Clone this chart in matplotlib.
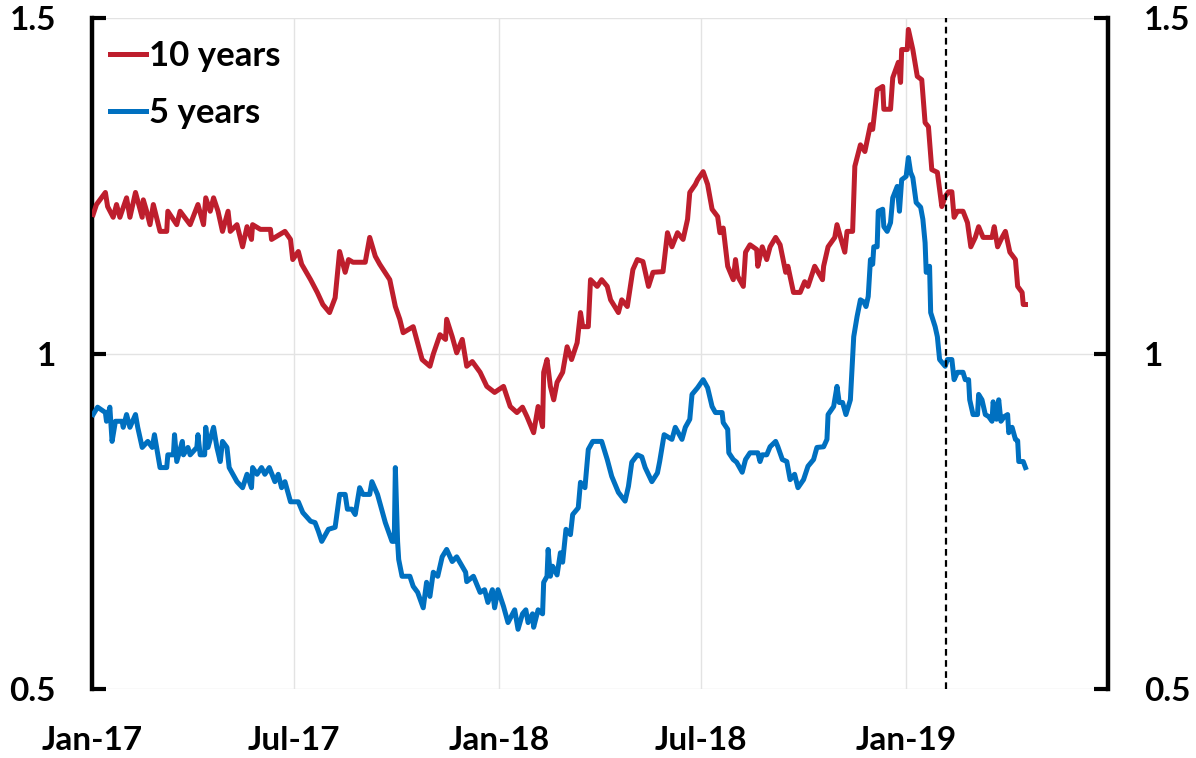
import matplotlib
matplotlib.use("Agg")
import matplotlib.pyplot as plt
import pandas as pd

# ---------------- data (days since 2017-01-01, yield %) ----------------
start_date = "2017-01-01"

ten_days = [1, 4, 12, 14, 19, 22, 25, 29, 31, 34, 39, 45, 46, 49, 52, 55, 61, 67, 68, 76,
            79, 88, 95, 100, 102, 106, 109, 113, 117, 122, 124, 130, 135, 139, 143, 144, 151, 160, 161, 173,
            178, 180, 185, 188, 196, 202, 207, 213, 218, 222, 227, 230, 234, 245, 249, 254, 258, 267, 272, 276,
            279, 288, 296, 303, 306, 312, 317, 318, 323, 327, 332, 336, 341, 348, 354, 361, 369, 375, 381, 386,
            390, 396, 400, 404, 405, 408, 411, 414, 417, 422, 426, 430, 435, 438, 440, 445, 447, 453, 457, 462,
            465, 472, 475, 480, 485, 489, 494, 499, 503, 512, 516, 520, 525, 530, 534, 536, 541, 543, 548, 552,
            556, 561, 563, 566, 570, 575, 577, 579, 584, 586, 590, 596, 597, 601, 605, 608, 613, 617, 622, 624,
            629, 635, 639, 642, 648, 655, 656, 660, 666, 668, 671, 675, 677, 682, 684, 689, 693, 698, 700, 704,
            709, 710, 716, 718, 723, 725, 726, 731, 732, 736, 740, 744, 747, 750, 753, 758, 762, 765, 768, 771,
            773, 776, 781, 785, 788, 792, 795, 799, 807, 809, 812, 816, 819, 823, 828, 830, 834, 835, 837]
ten_vals = [1.207, 1.222, 1.240, 1.219, 1.203, 1.222, 1.203, 1.222, 1.232, 1.203, 1.240, 1.203, 1.229, 1.212, 1.192, 1.222, 1.182, 1.182, 1.212, 1.192,
            1.212, 1.192, 1.222, 1.192, 1.232, 1.212, 1.232, 1.212, 1.182, 1.212, 1.182, 1.192, 1.159, 1.189, 1.170, 1.192, 1.185, 1.185, 1.170, 1.182,
            1.170, 1.140, 1.152, 1.133, 1.110, 1.091, 1.073, 1.061, 1.083, 1.152, 1.121, 1.140, 1.136, 1.136, 1.173, 1.145, 1.133, 1.110, 1.070, 1.051,
            1.031, 1.040, 0.991, 0.981, 0.999, 1.028, 1.021, 1.051, 1.025, 1.001, 1.021, 0.981, 0.988, 0.972, 0.951, 0.942, 0.951, 0.921, 0.912, 0.920,
            0.906, 0.882, 0.921, 0.891, 0.972, 0.991, 0.951, 0.931, 0.957, 0.972, 1.010, 0.991, 1.016, 1.061, 1.040, 1.040, 1.110, 1.100, 1.110, 1.100,
            1.080, 1.061, 1.080, 1.070, 1.125, 1.140, 1.137, 1.100, 1.121, 1.122, 1.180, 1.159, 1.180, 1.170, 1.200, 1.240, 1.252, 1.259, 1.271, 1.252,
            1.215, 1.204, 1.180, 1.187, 1.130, 1.110, 1.140, 1.115, 1.100, 1.151, 1.162, 1.155, 1.130, 1.159, 1.140, 1.159, 1.173, 1.162, 1.121, 1.130,
            1.091, 1.091, 1.107, 1.100, 1.130, 1.110, 1.130, 1.159, 1.173, 1.192, 1.174, 1.151, 1.182, 1.182, 1.279, 1.311, 1.301, 1.341, 1.334, 1.393,
            1.398, 1.364, 1.364, 1.411, 1.434, 1.404, 1.453, 1.453, 1.483, 1.453, 1.413, 1.408, 1.344, 1.338, 1.274, 1.270, 1.219, 1.234, 1.241, 1.241,
            1.203, 1.212, 1.212, 1.195, 1.159, 1.173, 1.189, 1.173, 1.173, 1.189, 1.159, 1.173, 1.182, 1.151, 1.140, 1.100, 1.091, 1.073, 1.073]

five_days = [1, 5, 12, 13, 16, 18, 21, 27, 28, 31, 34, 39, 41, 45, 50, 54, 56, 61, 67, 68,
             73, 74, 76, 81, 82, 86, 88, 94, 95, 97, 101, 102, 104, 109, 112, 115, 117, 121, 123, 130,
             135, 139, 143, 144, 148, 152, 155, 159, 164, 167, 170, 173, 178, 185, 189, 196, 200, 203, 206, 212,
             218, 222, 227, 229, 233, 236, 240, 243, 249, 251, 256, 258, 263, 269, 271, 272, 274, 275, 278, 285,
             288, 292, 297, 300, 303, 306, 310, 314, 318, 323, 327, 335, 336, 342, 348, 352, 355, 359, 361, 364,
             369, 373, 379, 382, 386, 389, 391, 395, 396, 400, 404, 405, 408, 409, 411, 413, 417, 420, 422, 425,
             429, 431, 436, 438, 442, 445, 449, 457, 462, 466, 472, 478, 481, 484, 489, 493, 496, 502, 507, 509,
             513, 520, 523, 529, 532, 536, 538, 543, 548, 552, 556, 559, 565, 566, 570, 571, 575, 578, 583, 586,
             590, 597, 599, 601, 605, 608, 613, 615, 619, 623, 626, 630, 633, 638, 642, 647, 650, 656, 659, 660,
             665, 668, 670, 673, 676, 680, 683, 686, 689, 692, 694, 696, 698, 700, 701, 704, 705, 709, 710, 713,
             716, 718, 722, 724, 726, 730, 732, 734, 736, 739, 743, 745, 747, 748, 751, 752, 756, 758, 760, 765,
             767, 771, 773, 776, 781, 783, 786, 787, 790, 794, 795, 798, 801, 804, 807, 808, 811, 813, 815, 818,
             821, 822, 825, 828, 830, 831, 835, 837]
five_vals = [0.909, 0.920, 0.912, 0.899, 0.920, 0.869, 0.899, 0.899, 0.890, 0.909, 0.890, 0.909, 0.890, 0.860, 0.869, 0.860, 0.879, 0.830, 0.830, 0.849,
             0.849, 0.879, 0.839, 0.869, 0.849, 0.860, 0.849, 0.860, 0.879, 0.849, 0.849, 0.890, 0.860, 0.890, 0.860, 0.839, 0.869, 0.860, 0.830, 0.809,
             0.800, 0.820, 0.800, 0.830, 0.820, 0.830, 0.820, 0.830, 0.809, 0.820, 0.800, 0.809, 0.779, 0.779, 0.763, 0.750, 0.748, 0.735, 0.720, 0.738,
             0.741, 0.790, 0.790, 0.768, 0.768, 0.760, 0.800, 0.790, 0.790, 0.809, 0.790, 0.778, 0.748, 0.720, 0.720, 0.830, 0.720, 0.693, 0.668, 0.668,
             0.653, 0.644, 0.621, 0.659, 0.638, 0.674, 0.668, 0.697, 0.708, 0.690, 0.697, 0.674, 0.660, 0.668, 0.644, 0.648, 0.629, 0.648, 0.621, 0.648,
             0.623, 0.599, 0.618, 0.589, 0.612, 0.618, 0.599, 0.612, 0.592, 0.618, 0.612, 0.659, 0.668, 0.708, 0.668, 0.683, 0.670, 0.703, 0.689, 0.738,
             0.730, 0.760, 0.770, 0.808, 0.800, 0.857, 0.869, 0.869, 0.842, 0.817, 0.793, 0.780, 0.802, 0.838, 0.849, 0.846, 0.830, 0.809, 0.822, 0.839,
             0.879, 0.872, 0.890, 0.872, 0.890, 0.902, 0.939, 0.949, 0.961, 0.949, 0.921, 0.912, 0.912, 0.897, 0.887, 0.852, 0.842, 0.838, 0.823, 0.842,
             0.852, 0.852, 0.839, 0.849, 0.849, 0.861, 0.869, 0.861, 0.842, 0.839, 0.812, 0.820, 0.800, 0.812, 0.832, 0.842, 0.860, 0.861, 0.872, 0.909,
             0.921, 0.951, 0.927, 0.927, 0.909, 0.931, 1.025, 1.055, 1.080, 1.077, 1.070, 1.085, 1.140, 1.133, 1.159, 1.159, 1.212, 1.215, 1.189, 1.182,
             1.195, 1.232, 1.249, 1.212, 1.259, 1.264, 1.292, 1.270, 1.262, 1.225, 1.218, 1.200, 1.165, 1.121, 1.130, 1.061, 1.040, 1.025, 0.991, 0.981,
             0.991, 0.991, 0.961, 0.972, 0.972, 0.961, 0.961, 0.931, 0.909, 0.909, 0.939, 0.931, 0.909, 0.906, 0.899, 0.928, 0.902, 0.931, 0.899, 0.906,
             0.909, 0.882, 0.890, 0.872, 0.870, 0.839, 0.839, 0.830]

event_date = "2019-02-06"
series_labels = ["10 years", "5 years"]
x_ticks = ["2017-01-01", "2017-07-01", "2018-01-01", "2018-07-01", "2019-01-01"]
x_tick_labels = ["Jan-17", "Jul-17", "Jan-18", "Jul-18", "Jan-19"]
y_ticks = [0.5, 1.0, 1.5]
y_tick_labels = ["0.5", "1", "1.5"]
x_limits = ["2017-01-01", "2019-07-01"]

RED = "#BE1E2D"
BLUE = "#0070C0"

# ---------------- figure ----------------
plt.rcParams["font.family"] = ["Lato", "DejaVu Sans"]
plt.rcParams["font.weight"] = "bold"

fig = plt.figure(figsize=(11.96, 7.58), dpi=100)
ax = fig.add_axes([92 / 1196, 1 - 689 / 758, (1108 - 92) / 1196, (689 - 18) / 758])

t0 = pd.Timestamp(start_date)
ten_x = t0 + pd.to_timedelta(ten_days, unit="D")
five_x = t0 + pd.to_timedelta(five_days, unit="D")

ax.plot(ten_x, ten_vals, color=RED, lw=3.6, label=series_labels[0], solid_joinstyle="round", zorder=3)
ax.plot(five_x, five_vals, color=BLUE, lw=3.6, label=series_labels[1], solid_joinstyle="round", zorder=3)

ax.axvline(pd.Timestamp(event_date), color="black", lw=1.6, ls=(0, (3, 2)), zorder=4)

ax.set_xlim(pd.Timestamp(x_limits[0]), pd.Timestamp(x_limits[1]))
ax.set_ylim(0.5, 1.5)

ax.set_xticks([pd.Timestamp(d) for d in x_ticks])
ax.set_xticklabels(x_tick_labels)
ax.set_yticks(y_ticks)
ax.set_yticklabels(y_tick_labels)

ax.grid(True, color="#E3E3E3", lw=1.0, zorder=0)
ax.set_axisbelow(True)

for s in ["top", "bottom"]:
    ax.spines[s].set_visible(False)
for s in ["left", "right"]:
    ax.spines[s].set_linewidth(3.2)
    ax.spines[s].set_color("black")

ax.tick_params(axis="x", length=0, pad=27, labelsize=24)
ax.tick_params(axis="y", direction="in", length=10, width=3, pad=26, labelsize=24,
               left=True, right=True, labelleft=True, labelright=True)
for lbl in ax.get_xticklabels() + ax.get_yticklabels():
    lbl.set_fontweight("bold")

leg = ax.legend(loc="upper left", frameon=False, fontsize=25, handlelength=1.05,
                handletextpad=0.08, borderaxespad=0.0, labelspacing=0.72,
                bbox_to_anchor=(0.004, 0.988))
for t in leg.get_texts():
    t.set_fontweight("bold")

fig.savefig("out.png", dpi=100)
